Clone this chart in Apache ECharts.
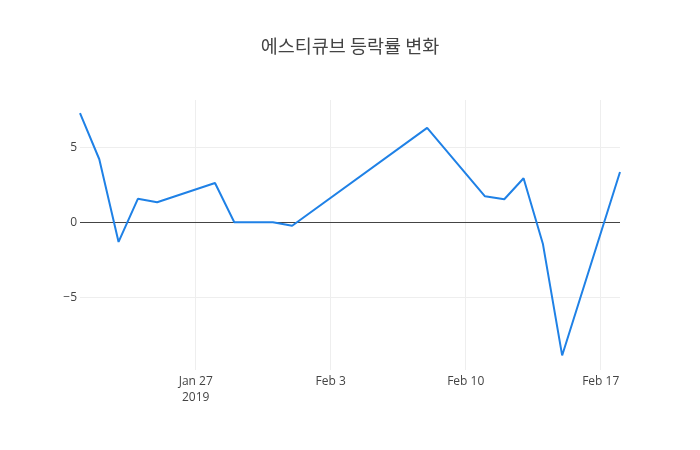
<!DOCTYPE html>
<html>
<head>
<meta charset="utf-8">
<script src="https://cdn.jsdelivr.net/npm/echarts@6/dist/echarts.min.js"></script>
<style>
  html, body { margin: 0; padding: 0; background: #fff; }
  #chart { width: 700px; height: 450px; }
</style>
</head>
<body>
<div id="chart"></div>
<script>
// 등락률 (%) by trading day
var dates = ['2019-01-21', '2019-01-22', '2019-01-23', '2019-01-24', '2019-01-25',
  '2019-01-28', '2019-01-29', '2019-01-31', '2019-02-01', '2019-02-08',
  '2019-02-11', '2019-02-12', '2019-02-13', '2019-02-14', '2019-02-15', '2019-02-18'];
var rates = [7.27, 4.2, -1.31, 1.56, 1.33, 2.62, 0, 0, -0.23, 6.29,
  1.73, 1.53, 2.93, -1.43, -8.88, 3.35];
var xTicks = ['2019-01-27', '2019-02-03', '2019-02-10', '2019-02-17'];
var yTicks = [-5, 0, 5];

var toTime = function (d) { return Date.UTC(+d.slice(0, 4), +d.slice(5, 7) - 1, +d.slice(8, 10)); };
var monthNames = ['Jan', 'Feb', 'Mar', 'Apr', 'May', 'Jun', 'Jul', 'Aug', 'Sep', 'Oct', 'Nov', 'Dec'];
var xTickTimes = xTicks.map(toTime);

var option = {
  animation: false,
  title: {
    text: '에스티큐브 등락률 변화',
    left: 'center',
    top: 32,
    textStyle: {
      fontFamily: 'Noto Sans CJK KR',
      fontSize: 18.5,
      fontWeight: 'normal',
      color: '#444'
    }
  },
  grid: { left: 80, right: 80, top: 100, bottom: 80 },
  xAxis: {
    type: 'value',
    min: toTime(dates[0]),
    max: toTime(dates[dates.length - 1]),
    axisLine: { show: false },
    axisTick: { show: false, customValues: xTickTimes },
    splitLine: { show: true, lineStyle: { color: '#eee', width: 1 } },
    axisLabel: {
      customValues: xTickTimes,
      margin: 4,
      color: '#444',
      fontSize: 12,
      fontFamily: 'Open Sans',
      lineHeight: 16,
      formatter: function (v) {
        var d = new Date(v);
        var s = monthNames[d.getUTCMonth()] + ' ' + d.getUTCDate();
        if (v === xTickTimes[0]) s += '\n' + d.getUTCFullYear();
        return s;
      }
    }
  },
  yAxis: {
    type: 'value',
    min: -9.85,
    max: 8.15,
    axisLine: { show: false },
    axisTick: { show: false, customValues: yTicks },
    splitLine: { show: true, lineStyle: { color: '#eee', width: 1 } },
    axisLabel: {
      customValues: yTicks,
      margin: 3,
      color: '#444',
      fontSize: 12,
      fontFamily: 'Open Sans',
      formatter: function (v) { return v < 0 ? '\u2212' + Math.abs(v) : String(v); }
    }
  },
  series: [{
    type: 'line',
    data: dates.map(function (d, i) { return [toTime(d), rates[i]]; }),
    showSymbol: false,
    symbol: 'none',
    lineStyle: { color: '#1f81e6', width: 2 },
    markLine: {
      silent: true,
      symbol: 'none',
      label: { show: false },
      lineStyle: { color: '#444', width: 1, type: 'solid' },
      data: [{ yAxis: 0 }],
      z: 1
    }
  }]
};

var myChart = echarts.init(document.getElementById('chart'));
myChart.setOption(option);
</script>
</body>
</html>
